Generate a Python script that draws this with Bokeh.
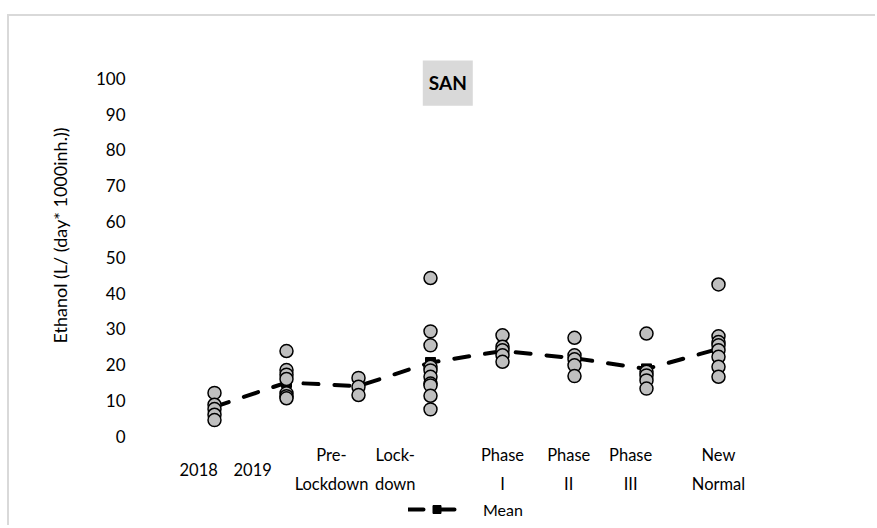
from bokeh.plotting import figure
from bokeh.models import FixedTicker, Label, Legend, LegendItem, Range1d, Title
from bokeh.core.properties import value
from bokeh.embed import file_html
from bokeh.resources import INLINE

# ---- data -------------------------------------------------------------
categories = ["2018", "2019", "Pre-\nLockdown", "Lock-\ndown",
              "Phase\nI", "Phase\nII", "Phase\nIII", "New\nNormal"]
vals_2018 = [12.1, 8.8, 7.6, 6.0, 4.5]
vals_2019 = [23.8, 18.5, 17.2, 16.0, 12.0, 11.2, 10.6]
vals_pre = [16.3, 13.8, 11.5]
vals_lock = [44.2, 29.3, 25.4, 19.4, 18.4, 16.6, 14.7, 14.2, 11.3, 7.5]
vals_ph1 = [28.2, 25.0, 24.0, 22.6, 20.8]
vals_ph2 = [27.5, 22.6, 21.5, 19.8, 16.8]
vals_ph3 = [28.7, 18.0, 17.0, 15.6, 13.3]
vals_new = [42.4, 27.9, 26.3, 25.4, 24.0, 22.2, 19.4, 16.6]
mean_values = [8.2, 15.0, 14.0, 20.6, 23.8, 21.8, 18.8, 24.4]
y_ticks = [0, 10, 20, 30, 40, 50, 60, 70, 80, 90, 100]
title_text = "SAN"
y_title = "Ethanol (L/ (day* 1000inh.))"
legend_label = "Mean"

# ---- layout (not data) ------------------------------------------------
label_shift = [-0.22, -0.47, -0.375, -0.49, 0.0, -0.08, -0.22, 0.0]
FONT = "Lato"

groups = [vals_2018, vals_2019, vals_pre, vals_lock, vals_ph1, vals_ph2, vals_ph3, vals_new]
cat_x = list(range(1, len(categories) + 1))
pt_x, pt_y = [], []
for cx, g in zip(cat_x, groups):
    for v in g:
        pt_x.append(cx)
        pt_y.append(v)

p = figure(width=868, height=511, output_backend="svg", toolbar_location=None,
           x_range=Range1d(0, 9), y_range=Range1d(-23, 105),
           min_border_left=133, min_border_right=87, min_border_top=44, min_border_bottom=9,
           margin=(16, 0, 0, 9))
p.styles = {"box-shadow": "-2px -2px 0 0 #d9d9d9"}
p.outline_line_color = None
p.grid.visible = False
p.xaxis.visible = False

yax = p.yaxis[0]
yax.ticker = FixedTicker(ticks=y_ticks)
yax.axis_line_color = None
yax.major_tick_line_color = None
yax.minor_tick_line_color = None
yax.major_label_standoff = 11
yax.major_label_text_font = FONT
yax.major_label_text_font_size = "17px"
yax.major_label_text_color = "black"

# y-axis title, placed higher than the frame centre as in the original
p.add_layout(Title(text=y_title, align="left", offset=175, standoff=43,
                   text_font=FONT, text_font_size="18px", text_font_style="normal",
                   text_color="black"), "left")

# mean line + markers
line_r = p.line(cat_x, mean_values, line_color="black", line_width=4,
                line_dash="15 16", line_cap="round")
sq_r = p.scatter(cat_x, mean_values, marker="square", size=10,
                 fill_color="black", line_color="black")

# individual points
p.scatter(pt_x, pt_y, marker="circle", size=13, fill_color="#bfbfbf",
          line_color="black", line_width=1.5)

# category labels
lab_x = [c + s for c, s in zip(cat_x, label_shift)]
p.text(x=lab_x, y=[-9.3] * len(categories), text=categories,
       text_align="center", text_baseline="middle",
       text_font=value(FONT), text_font_size="16.5px", text_color="black",
       text_line_height=1.45)

# title box
p.add_layout(Label(x=4.24, y=98.9, text=title_text, text_align="center",
                   text_baseline="middle", text_font=FONT, text_font_size="19px",
                   text_font_style="bold", text_color="black",
                   background_fill_color="#d9d9d9", padding=(6, 12)))

legend = Legend(items=[LegendItem(label=legend_label, renderers=[line_r, sq_r])],
                location=(266, -1), border_line_color=None, background_fill_alpha=0,
                padding=0, margin=0, glyph_width=57, glyph_height=20,
                label_standoff=18, label_text_font=FONT, label_text_font_size="16px",
                label_text_color="black")
p.add_layout(legend)

open("out.html", "w").write(file_html(p, INLINE))
